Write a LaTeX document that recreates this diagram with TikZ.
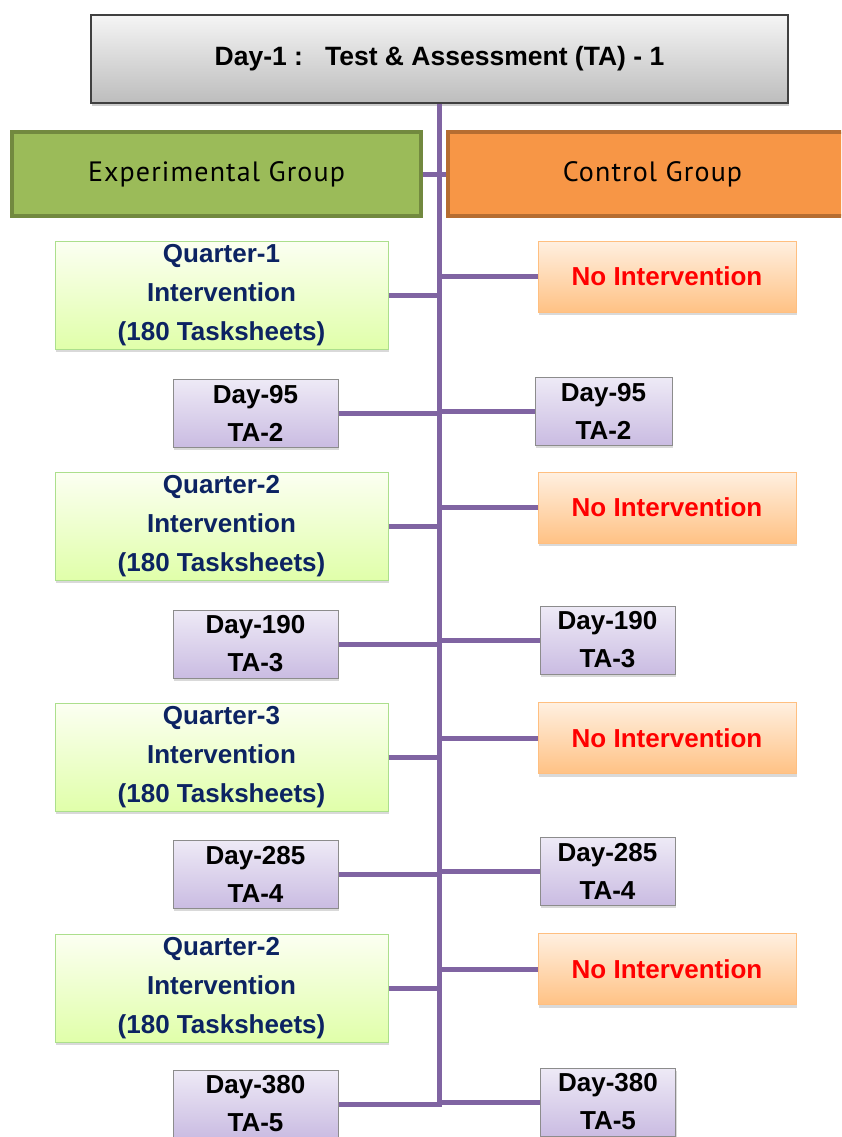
\documentclass[tikz,border=0pt]{standalone}
\usepackage{fontspec}
\setmainfont{Liberation Sans}
\newfontfamily\groupfont[LetterSpace=4]{PT Sans}
\usepackage{tikz}
\usetikzlibrary{shadows}
\definecolor{linkpurple}{HTML}{8064A2}
\definecolor{expgreen}{HTML}{9BBB59}
\definecolor{expedge}{HTML}{72893F}
\definecolor{ctlorange}{HTML}{F79646}
\definecolor{ctledge}{HTML}{B66D31}
\definecolor{quarternavy}{HTML}{0C2362}
\definecolor{daytop}{HTML}{EEEAF6}
\definecolor{daybottom}{HTML}{CABCE2}
\tikzstyle{title box}=[rectangle, draw=black!75, line width=1.5pt, top color=black!4, bottom color=black!26,
  minimum width=697pt, minimum height=88pt, inner sep=0pt,
  drop shadow={shadow xshift=1pt, shadow yshift=-3pt, opacity=.4},
  font=\fontsize{26.5}{30}\selectfont\bfseries]
\tikzstyle{group box}=[rectangle, line width=4pt, minimum width=409pt, minimum height=84pt, inner sep=0pt,
  font=\fontsize{28}{32}\selectfont\groupfont]
\tikzstyle{quarter}=[rectangle, draw=green!45!olive!45, line width=1pt, top color=lime!5!white, bottom color=lime!30!white!95!green,
  minimum width=333pt, minimum height=108pt, inner sep=0pt, align=center, text=quarternavy,
  drop shadow={shadow xshift=1pt, shadow yshift=-3pt, opacity=.3},
  font=\fontsize{26}{39}\selectfont\bfseries]
\tikzstyle{no intervention}=[rectangle, draw=orange!50, line width=1pt, top color=orange!12, bottom color=orange!48,
  minimum width=258pt, minimum height=71pt, inner sep=0pt, text=red,
  drop shadow={shadow xshift=1pt, shadow yshift=-3pt, opacity=.3},
  font=\fontsize{26}{39}\selectfont\bfseries]
\tikzstyle{test day}=[rectangle, draw=black!45, line width=1pt, top color=daytop, bottom color=daybottom,
  minimum height=68pt, inner sep=0pt, align=center,
  drop shadow={shadow xshift=1pt, shadow yshift=-3pt, opacity=.3},
  font=\fontsize{26}{38}\selectfont\bfseries]
\tikzstyle{link}=[draw=linkpurple, line width=5pt]

\begin{document}
\begin{tikzpicture}[x=1pt, y=-1pt]
\useasboundingbox (0,0) rectangle (841,1137);
\clip (0,0) rectangle (841,1137);

\node[title box] (title) at (439.5, 59) {Day-1 :\ \ \ Test \& Assessment (TA) - 1};

\node[group box, draw=expedge, fill=expgreen] (exp) at (216.5, 174) {Experimental Group};
\node[group box, draw=ctledge, fill=ctlorange] (ctl) at (652.5, 174) {Control Group};

% experimental group
\node[quarter] (q1) at (221.5, 295) {Quarter-1\\Intervention\\(180 Tasksheets)};
\node[test day, minimum width=165pt] (d2l) at (255.5, 413) {Day-95\\TA-2};
\node[quarter] (q2) at (221.5, 526) {Quarter-2\\Intervention\\(180 Tasksheets)};
\node[test day, minimum width=165pt] (d3l) at (255.5, 644) {Day-190\\TA-3};
\node[quarter] (q3) at (221.5, 757) {Quarter-3\\Intervention\\(180 Tasksheets)};
\node[test day, minimum width=165pt] (d4l) at (255.5, 874) {Day-285\\TA-4};
\node[quarter] (q4) at (221.5, 988) {Quarter-2\\Intervention\\(180 Tasksheets)};
\node[test day, minimum width=165pt] (d5l) at (255.5, 1104) {Day-380\\TA-5};

% control group
\node[no intervention] (n1) at (667, 276.5) {No Intervention};
\node[test day, minimum width=137pt] (d2r) at (603.5, 411) {Day-95\\TA-2};
\node[no intervention] (n2) at (667, 507.5) {No Intervention};
\node[test day, minimum width=135pt] (d3r) at (607.5, 640) {Day-190\\TA-3};
\node[no intervention] (n3) at (667, 738) {No Intervention};
\node[test day, minimum width=135pt] (d4r) at (607.5, 871) {Day-285\\TA-4};
\node[no intervention] (n4) at (667, 969) {No Intervention};
\node[test day, minimum width=135pt] (d5r) at (608, 1102) {Day-380\\TA-5};

\coordinate (tail) at (title.south |- d5l.east);

\draw[link] (title.south) -- (tail) -- (d5l.east);
\draw[link] (exp.east) -- (ctl.west);

\draw[link] (q1.east) -- (q1.east -| tail);
\draw[link] (d2l.east) -- (d2l.east -| tail);
\draw[link] (q2.east) -- (q2.east -| tail);
\draw[link] (d3l.east) -- (d3l.east -| tail);
\draw[link] (q3.east) -- (q3.east -| tail);
\draw[link] (d4l.east) -- (d4l.east -| tail);
\draw[link] (q4.east) -- (q4.east -| tail);

\draw[link] (n1.west -| tail) -- (n1.west);
\draw[link] (d2r.west -| tail) -- (d2r.west);
\draw[link] (n2.west -| tail) -- (n2.west);
\draw[link] (d3r.west -| tail) -- (d3r.west);
\draw[link] (n3.west -| tail) -- (n3.west);
\draw[link] (d4r.west -| tail) -- (d4r.west);
\draw[link] (n4.west -| tail) -- (n4.west);
\draw[link] (d5r.west -| tail) -- (d5r.west);
\end{tikzpicture}
\end{document}
